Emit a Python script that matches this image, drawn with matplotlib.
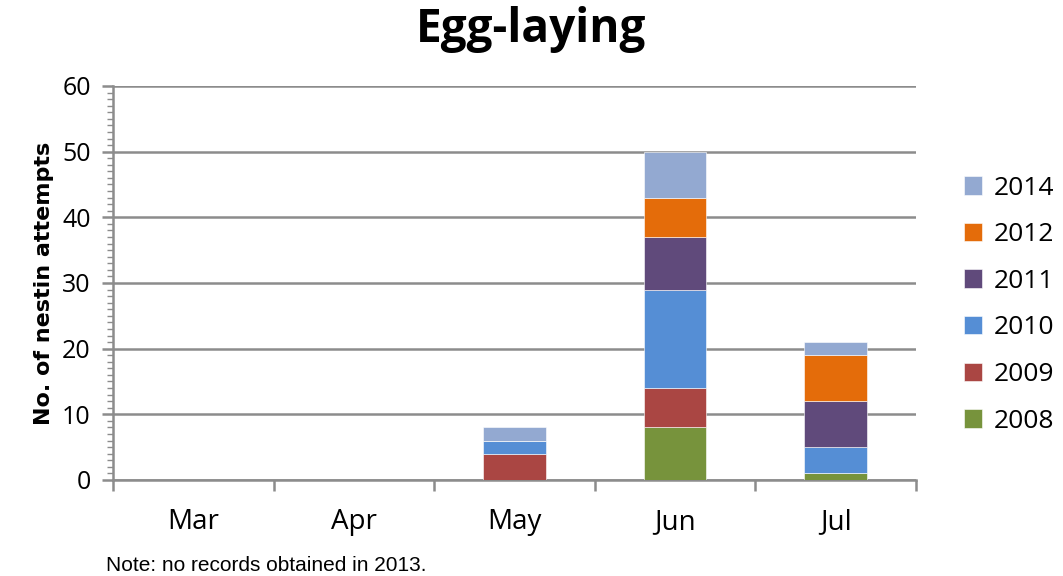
import matplotlib
matplotlib.use("Agg")
import matplotlib.pyplot as plt
from matplotlib.ticker import MultipleLocator
import numpy as np

months = ["Mar", "Apr", "May", "Jun", "Jul"]
years = ["2008", "2009", "2010", "2011", "2012", "2014"]
n2008 = [0, 0, 0, 8, 1]
n2009 = [0, 0, 4, 6, 0]
n2010 = [0, 0, 2, 15, 4]
n2011 = [0, 0, 0, 8, 7]
n2012 = [0, 0, 0, 6, 7]
n2014 = [0, 0, 2, 7, 2]
colors = ["#77933C", "#AA4643", "#558ED5", "#604A7B", "#E46C0A", "#93A9D1"]

series = [n2008, n2009, n2010, n2011, n2012, n2014]

plt.rcParams["font.family"] = ["Open Sans", "DejaVu Sans"]
fig = plt.figure(figsize=(10.63, 5.76), dpi=100)
ax = fig.add_axes([0.1063, 0.1667, 0.7554, 0.6840])

x = np.arange(len(months))
bottom = np.zeros(len(months))
handles = []
for vals, col, yr in zip(series, colors, years):
    b = ax.bar(x, vals, width=0.39, bottom=bottom, color=col, label=yr,
               edgecolor="white", linewidth=0.4, zorder=3)
    handles.append(b)
    bottom += np.array(vals)

ax.set_xlim(-0.5, len(months) - 0.5)
ax.set_ylim(0, 60)
ax.yaxis.set_major_locator(MultipleLocator(10))
ax.yaxis.set_minor_locator(MultipleLocator(1))
ax.grid(axis="y", color="#8c8c8c", linewidth=1.8, zorder=0)

# category boundaries carry the x ticks
ax.set_xticks(np.arange(-0.5, len(months)), minor=False)
ax.set_xticklabels([])
ax.set_xticks(x, minor=True)
ax.set_xticklabels(months, minor=True, fontsize=20)
ax.tick_params(axis="x", which="minor", length=0, pad=20)
ax.tick_params(axis="x", which="major", length=8, width=1.8,
               color="#8c8c8c", direction="out")
ax.tick_params(axis="y", which="major", length=8, width=1.8,
               color="#8c8c8c", labelsize=18, pad=8)
ax.tick_params(axis="y", which="minor", length=4, width=1,
               color="#8c8c8c")

for s in ["top", "right"]:
    ax.spines[s].set_visible(False)
for s in ["left", "bottom"]:
    ax.spines[s].set_color("#8c8c8c")
    ax.spines[s].set_linewidth(1.8)

ax.set_ylabel("No. of nestin attempts", fontsize=16, fontweight="bold",
              family=["Liberation Sans Narrow", "DejaVu Sans"], labelpad=6)

fig.text(0.4995, 0.948, "Egg-laying", ha="center", va="center",
         fontsize=33, fontweight="bold")

leg = ax.legend(handles[::-1], years[::-1], loc="center left",
                bbox_to_anchor=(1.03, 0.445), frameon=False, fontsize=19,
                handlelength=0.7, handleheight=0.7, labelspacing=0.82,
                handletextpad=0.45)

fig.text(0.1, 0.008, "Note: no records obtained in 2013.", fontsize=15,
         family=["Liberation Sans", "DejaVu Sans"])

fig.savefig("out.png", dpi=100)
